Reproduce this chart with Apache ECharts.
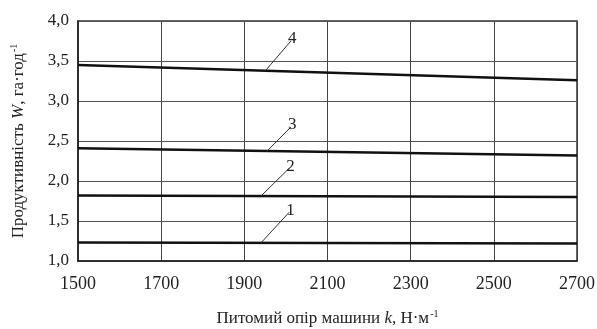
<!DOCTYPE html>
<html>
<head>
<meta charset="utf-8">
<script src="https://cdn.jsdelivr.net/npm/echarts@6/dist/echarts.min.js"></script>
<style>
  html, body { margin: 0; padding: 0; background: #fff; }
  #chart { width: 597px; height: 329px; }
</style>
</head>
<body>
<div id="chart"></div>
<script>
// k values (x) and productivity W for curves 1..4
const kValues = [1500, 2700]
const curve1 = [1.23, 1.22]
const curve2 = [1.82, 1.80]
const curve3 = [2.41, 2.32]
const curve4 = [3.45, 3.26]

// leader lines for curve numbers: [x0, y0, x1, y1]
const labelNames = ['1', '2', '3', '4']
const leaders = [
  [1940, 1.226, 2008, 1.61],
  [1940, 1.812, 2008, 2.16],
  [1955, 2.376, 2012, 2.675],
  [1950, 3.375, 2012, 3.75]
]

const chart = echarts.init(document.getElementById('chart'))

const font = 'Liberation Serif'
const ink = '#222'

const curveSeries = [curve1, curve2, curve3, curve4].map((c, i) => ({
  name: labelNames[i],
  type: 'line',
  data: kValues.map((k, j) => [k, c[j]]),
  showSymbol: false,
  lineStyle: { color: '#111', width: 2.5 },
  z: 3
}))

const leaderSeries = leaders.map((l, i) => ({
  type: 'line',
  data: [[l[0], l[1]], [l[2], l[3]]],
  showSymbol: false,
  lineStyle: { color: '#333', width: 1 },
  label: { show: false },
  endLabel: {
    show: true,
    formatter: labelNames[i],
    fontFamily: font,
    fontSize: 17,
    color: ink,
    distance: 0,
    offset: [-3, -2]
  },
  z: 4
}))

const richName = {
  n: { fontFamily: font, fontSize: 17, color: ink },
  i: { fontFamily: font, fontSize: 17, fontStyle: 'italic', color: ink },
  s: { fontFamily: font, fontSize: 10, color: ink, verticalAlign: 'top', padding: [0, 0, 10, 1] }
}

chart.setOption({
  animation: false,
  backgroundColor: '#fff',
  grid: {
    left: 78, right: 20, top: 21, bottom: 68,
    outerBoundsMode: 'none', containLabel: false,
    show: true, borderColor: '#333', borderWidth: 1.5
  },
  xAxis: {
    type: 'value',
    min: 1500, max: 2700, interval: 200,
    name: '{n|Питомий опір машини }{i|k}{n|, Н·м}{s|-1}',
    nameLocation: 'middle',
    nameGap: 48,
    nameTextStyle: { rich: richName },
    axisLine: { show: true, lineStyle: { color: ink, width: 1.5 } },
    axisTick: { show: false },
    axisLabel: { fontFamily: font, fontSize: 18, color: ink, margin: 14, formatter: v => String(v) },
    splitLine: { show: true, lineStyle: { color: '#444', width: 1 } }
  },
  yAxis: {
    type: 'value',
    min: 1, max: 4, interval: 0.5,
    name: '{n|Продуктивність }{i|W}{n|, га·год}{s|-1}',
    nameLocation: 'middle',
    nameGap: 49,
    nameTextStyle: { rich: richName },
    axisLine: { show: true, lineStyle: { color: ink, width: 1.5 } },
    axisTick: { show: false },
    axisLabel: {
      fontFamily: font, fontSize: 17, color: ink, margin: 9,
      formatter: v => v.toFixed(1).replace('.', ',')
    },
    splitLine: { show: true, lineStyle: { color: '#555', width: 1 } }
  },
  series: [...curveSeries, ...leaderSeries]
})
</script>
</body>
</html>
